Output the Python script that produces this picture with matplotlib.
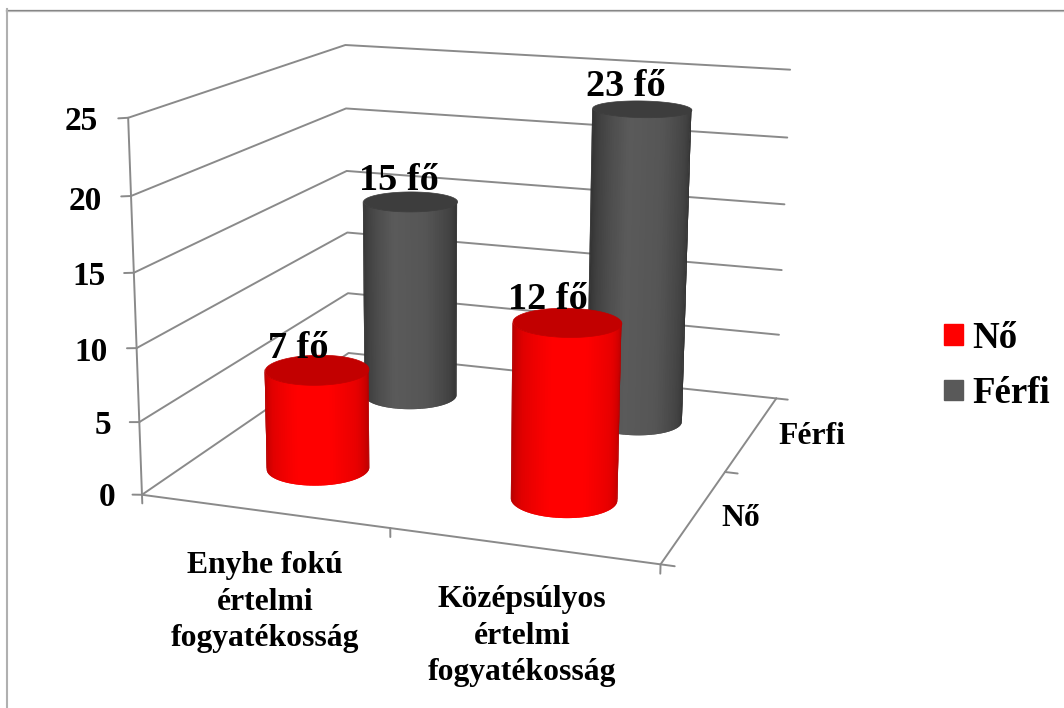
import matplotlib
matplotlib.use('Agg')
import matplotlib.pyplot as plt
import numpy as np
from matplotlib.lines import Line2D
from matplotlib.patches import Patch
from mpl_toolkits.mplot3d import proj3d
from mpl_toolkits.mplot3d.art3d import Poly3DCollection

plt.rcParams['font.family'] = ['Liberation Serif', 'DejaVu Serif']
plt.rcParams['font.weight'] = 'bold'

# Data
categories = ['Enyhe fokú\nértelmi\nfogyatékosság', 'Középsúlyos\nértelmi\nfogyatékosság']
series_names = ['Nő', 'Férfi']
no_values = [7, 12]
ferfi_values = [15, 23]
z_ticks = [0, 5, 10, 15, 20, 25]

# colour stops around the visible side of a cylinder, left edge to right edge
no_stops = ['#a80000', '#e00000', '#ff0000', '#ff0000', '#e60000', '#b00000']
ferfi_stops = ['#2e2e2e', '#444444', '#5a5a5a', '#565656', '#444444', '#2e2e2e']
no_top = '#c20000'
ferfi_top = '#3d3d3d'
grid_col = '#8a8a8a'

ELEV, AZIM, ROLL = 14.2, -70.9, -0.33
RADIUS = 0.199


def px(x, y):
    return x / 1064, 1 - y / 708


fig = plt.figure(figsize=(10.64, 7.08), dpi=100)
ax = fig.add_axes([82.84 / 1064, 36.85 / 708, 778.66 / 1064, 778.66 / 708], projection='3d')
ax.set_xlim(0, 2, view_margin=0)
ax.set_ylim(0, 2, view_margin=0)
ax.set_zlim(0, 25, view_margin=0)
ax.view_init(ELEV, AZIM, ROLL)
ax.set_proj_type('persp', focal_length=0.4946)
ax.set_box_aspect((1, 0.999, 0.7152))
ax.set_axis_off()
ax.patch.set_alpha(0)
ax.computed_zorder = False


def line(xs, ys, zs):
    ax.plot(xs, ys, zs, color=grid_col, lw=1.4, zorder=1, solid_capstyle='round')


# walls and floor
for z in z_ticks:
    line([0, 0, 2], [0, 2, 2], [z, z, z])
    line([0, -0.04], [0, 0], [z, z - 0.08])
line([0, 0], [0, 0], [0, 25])
line([0, 2, 2], [0, 0, 2], [0, 0, 0])
for x in [0, 1, 2]:
    line([x, x], [0, 0], [0, -0.6])
for y in [0, 1, 2]:
    line([2, 2.05], [y, y], [0, 0])


def blend(stops, t):
    rgb = np.array([matplotlib.colors.to_rgb(c) for c in stops])
    pos = np.linspace(0, 1, len(stops))
    return [np.interp(t, pos, rgb[:, i]) for i in range(3)]


def cylinder(xc, yc, value, stops, top, zo):
    n = 60
    theta = np.radians(np.linspace(AZIM - 92, AZIM + 92, n + 1))
    xs = xc + RADIUS * np.cos(theta)
    ys = yc + RADIUS * np.sin(theta)
    # each strip runs under the next one, drawn left to right, so no seams show
    for i in range(n):
        j = min(i + 2, n)
        verts = list(zip(xs[i:j + 1], ys[i:j + 1], np.zeros(j - i + 1))) + \
            list(zip(xs[i:j + 1][::-1], ys[i:j + 1][::-1], np.full(j - i + 1, value)))
        strip = Poly3DCollection([verts], facecolors=[blend(stops, i / (n - 1))], edgecolors='none', linewidths=0)
        strip.set_zorder(zo + i * 0.001)
        ax.add_collection3d(strip)
    a = np.radians(np.linspace(0, 360, 120))
    cap = Poly3DCollection([list(zip(xc + RADIUS * np.cos(a), yc + RADIUS * np.sin(a), np.full(120, value)))],
                           facecolors=top, edgecolors=top, linewidths=0.5)
    cap.set_zorder(zo + 0.5)
    ax.add_collection3d(cap)


x_centers = [0.5, 1.5]
cylinder(x_centers[0], 1.5, ferfi_values[0], ferfi_stops, ferfi_top, 2)
cylinder(x_centers[1], 1.5, ferfi_values[1], ferfi_stops, ferfi_top, 3)
cylinder(x_centers[0], 0.5, no_values[0], no_stops, no_top, 4)
cylinder(x_centers[1], 0.5, no_values[1], no_stops, no_top, 5)


# value labels, projected by hand so they are plain 2D texts in the axes
def value_label(x, y, z, s):
    u, v, _ = proj3d.proj_transform(x, y, z, ax.get_proj())
    ax.text2D(u, v, s, transform=ax.transData, fontsize=27.5, ha='center', va='center', zorder=10)


for xc, v in zip(x_centers, no_values):
    value_label(xc - 0.075, 0.5, v + 1.35, f'{v} fő')
for xc, v, dx in zip(x_centers, ferfi_values, [-0.05, -0.07]):
    value_label(xc + dx, 1.5, v + 1.5, f'{v} fő')

# axis labels
z_label_pos = [(115, 497), (111, 425), (108, 352), (106, 276), (102, 201), (98, 121)]
for z, (lx, ly) in zip(z_ticks, z_label_pos):
    fig.text(*px(lx, ly), str(z), fontsize=24, ha='right', va='center')
fig.text(*px(265, 602), categories[0], fontsize=22.8, ha='center', va='center', linespacing=1.36)
fig.text(*px(522, 636), categories[1], fontsize=22.8, ha='center', va='center', linespacing=1.36)
fig.text(*px(741, 518), series_names[0], fontsize=22.8, ha='center', va='center')
fig.text(*px(812, 436), series_names[1], fontsize=22.8, ha='center', va='center')

# legend
handles = [Patch(color='#ff0000', label=series_names[0]), Patch(color='#595959', label=series_names[1])]
fig.legend(handles=handles, loc='center left', bbox_to_anchor=px(911, 366), frameon=False,
           fontsize=26.6, handlelength=0.52, handleheight=0.48, handletextpad=0.25, labelspacing=0.55)

# only the top and left edge of the outer frame are in the picture
fig.add_artist(Line2D([6 / 1064, 1], [1 - 9.5 / 708] * 2, color='#7f7f7f', lw=0.9, transform=fig.transFigure))
fig.add_artist(Line2D([6 / 1064, 1], [1 - 10.5 / 708] * 2, color='#b8b8b8', lw=0.9, transform=fig.transFigure))
fig.add_artist(Line2D([7 / 1064] * 2, [0, 1 - 9 / 708], color='#b0b0b0', lw=1.5, transform=fig.transFigure))

fig.savefig('out.png', dpi=100)
